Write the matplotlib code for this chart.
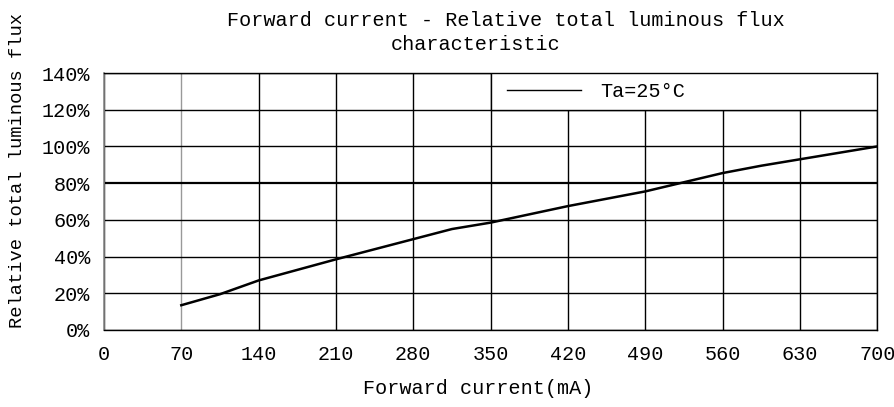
import matplotlib.pyplot as plt
from matplotlib.patches import Rectangle
from matplotlib.lines import Line2D

# Curve
current_ma = [70, 105, 140, 210, 280, 315, 350, 420, 490, 525, 560, 595, 630, 700]
rel_flux = [13.5, 19.5, 27, 38.5, 49.5, 55, 58.5, 67.5, 75.5, 80.5, 85.5, 89.5, 93, 100]

x_ticks = [0, 70, 140, 210, 280, 350, 420, 490, 560, 630, 700]
y_ticks = [0, 20, 40, 60, 80, 100, 120, 140]
y_ticklabels = [f'{v}%' for v in y_ticks]
legend_label = 'Ta=25°C'

plt.rcParams['font.family'] = ['Liberation Mono', 'DejaVu Sans Mono']
fs = 14.5

fig = plt.figure(figsize=(8.94, 4.07), dpi=100)
ax = fig.add_axes([0.1163, 0.1892, 0.865, 0.6314])

ax.plot(current_ma, rel_flux, color='black', linewidth=1.8, zorder=4)

ax.set_xlim(0, 700)
ax.set_ylim(0, 140)
ax.set_xticks(x_ticks)
ax.set_yticks(y_ticks)
ax.set_yticklabels(y_ticklabels)
ax.tick_params(length=0, labelsize=fs, colors='black')
ax.tick_params(axis='x', pad=11)
ax.tick_params(axis='y', pad=10)

# grid, with the 80% line drawn heavier and the 70 mA line grey
ax.grid(True, color='black', linewidth=1.0)
ax.set_axisbelow(True)
for tick, gl in zip(y_ticks, ax.get_ygridlines()):
    if tick == 80:
        gl.set_linewidth(1.6)
for tick, gl in zip(x_ticks, ax.get_xgridlines()):
    if tick == 70:
        gl.set_color('#999999')

for side in ['top', 'right', 'bottom']:
    ax.spines[side].set_linewidth(1.0)
ax.spines['left'].set_color('#888888')
ax.spines['left'].set_linewidth(1.2)

# legend box sits in the top-right grid cells
ax.add_patch(Rectangle((350, 120), 350, 20, facecolor='white',
                       edgecolor='black', linewidth=1.0, zorder=3))
handle = Line2D([], [], color='black', linewidth=1.0)
ax.legend([handle], [legend_label], loc='center left',
          bbox_to_anchor=(350, 130), bbox_transform=ax.transData,
          frameon=False, fontsize=fs, handlelength=3.7,
          handletextpad=0.95, borderaxespad=0, borderpad=0.8)

fig.text(506 / 894, 1 - 20 / 407, 'Forward current - Relative total luminous flux',
         ha='center', va='center', fontsize=fs)
fig.text(476 / 894, 1 - 45 / 407, 'characteristic',
         ha='center', va='center', fontsize=fs)
fig.text(478 / 894, 1 - 389 / 407, 'Forward current(mA)',
         ha='center', va='center', fontsize=fs)
fig.text(18 / 894, 1 - 170 / 407, 'Relative total luminous flux',
         ha='center', va='center', rotation=90, fontsize=13.5)

fig.savefig('out.png', dpi=100)
